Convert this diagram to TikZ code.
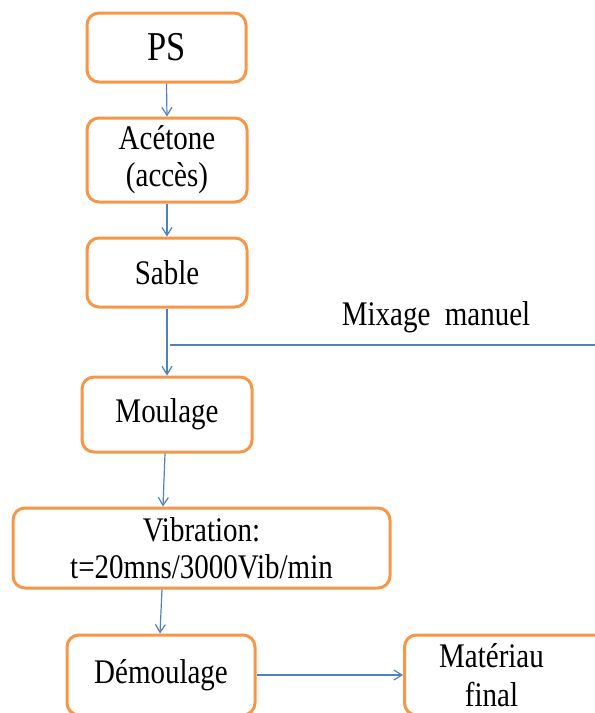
\documentclass[tikz,border=0pt]{standalone}
\usepackage{fontspec}
\setmainfont{Liberation Serif}[FakeStretch=0.84]
\usetikzlibrary{arrows.meta}
\definecolor{boxorange}{HTML}{F79646}
\definecolor{lineblue}{HTML}{4F81BD}
\tikzset{
 stepbox/.style={draw=boxorange, line width=3pt, rounded corners=12pt, fill=white, align=center, inner sep=0pt, font=\fontsize{34.5}{37}\selectfont},
 arr/.style={draw=lineblue, line width=1.2pt, -{Straight Barb[length=8pt,width=10pt]}},
 conn/.style={draw=lineblue, line width=1.2pt},
 lbl/.style={font=\fontsize{34.5}{37}\selectfont, inner sep=0pt, anchor=base},
}
\begin{document}
\begin{tikzpicture}[x=1pt,y=-1pt]
\useasboundingbox (0,0) rectangle (595,713);
\clip (0,0) rectangle (595,713);
\node[stepbox, minimum width=159pt, minimum height=69pt, font=\fontsize{41}{44}\selectfont] (ps) at (166.5,47.5) {PS};
\node[stepbox, minimum width=160pt, minimum height=84pt] (ace) at (167,160) {Acétone\\(accès)};
\node[stepbox, minimum width=160pt, minimum height=69pt] (sab) at (167,272.5) {Sable};
\node[stepbox, minimum width=170pt, minimum height=75pt] (mou) at (167,414.5) {Moulage};
\node[stepbox, minimum width=377pt, minimum height=80pt] (vib) at (201.5,548) {Vibration:\\t=20mns/3000Vib/min};
\node[stepbox, minimum width=188pt, minimum height=80pt] (dem) at (161,675) {Démoulage};
\node[stepbox, minimum width=216pt, minimum height=80pt, anchor=west, font=\fontsize{34.5}{39}\selectfont] (mat) at (403,675) {\hspace*{-42pt}Matériau\\\hspace*{-42pt}final};
\node[lbl] (mix) at (436,325) {Mixage\ \ manuel};
\coordinate (mixL) at (170,345);
\coordinate (mixR) at (595,345);
\draw[conn] (mixL) -- (mixR);
\draw[arr] (ps.south) -- (ace.north);
\draw[arr] (ace.south) -- (sab.north);
\draw[arr] (sab.south) -- (mou.north);
\draw[arr] (mou.south -| 165,0) -- (vib.north -| 163,0);
\draw[arr] (vib.south -| 162,0) -- (dem.north -| 160,0);
\draw[arr] (dem.east) -- (mat.west);
\end{tikzpicture}
\end{document}
